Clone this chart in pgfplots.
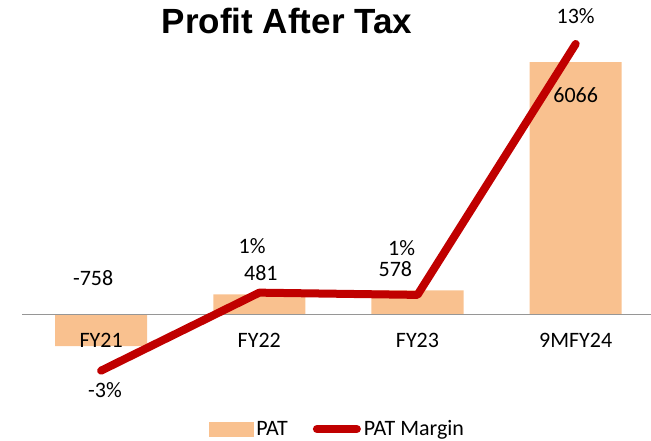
\documentclass[border=0pt]{standalone}
\usepackage{pgfplots}
\pgfplotsset{compat=1.18}
\usepackage{fontspec}
\setmainfont{Carlito}
\newfontfamily\titlefont{Liberation Sans}
\definecolor{barc}{RGB}{249,193,143}
\definecolor{linec}{RGB}{192,0,0}
\definecolor{axisgray}{RGB}{150,150,150}
\tikzset{lbl/.style={font=\fontsize{22}{24}\selectfont, inner sep=0pt}}
\begin{document}
\begin{tikzpicture}
\useasboundingbox (0,0) rectangle (651pt,440pt);
\node[font=\titlefont\bfseries\fontsize{35}{40}\selectfont] at (287pt,419pt) {Profit After Tax};
\begin{axis}[
  at={(22pt,40pt)}, anchor=south west,
  scale only axis, width=629pt, height=370pt,
  xmin=-0.5, xmax=3.476,
  ymin=-2054, ymax=6835,
  axis on top,
  axis y line=none,
  axis x line=middle,
  x axis line style={-, draw=axisgray, line width=1.2pt},
  xtick={0,1,2,3}, xticklabels={FY21,FY22,FY23,9MFY24},
  ytick=\empty,
  major tick length=0pt,
  xticklabel style={font=\fontsize{22}{24}\selectfont, yshift=-15pt},
  clip=false,
  legend columns=2,
  legend style={at={(axis description cs:0.297,-0.0784)}, anchor=west,
    draw=none, fill=none, inner sep=0pt,
    font=\fontsize{22}{24}\selectfont,
    nodes={inner sep=3pt},
    /tikz/every even column/.append style={column sep=22pt}},
]
\addplot[ybar, fill=barc, draw=none, bar width=92pt, bar shift=0pt, forget plot]
  coordinates {(0,-758) (1,481) (2,578) (3,6066)};
\addlegendimage{legend image code/.code={\fill[barc] (0pt,-7pt) rectangle (44pt,7pt);}}
\addlegendentry{PAT}
\addlegendimage{legend image code/.code={\draw[linec, line width=8pt, line cap=round] (4pt,0pt) -- (44pt,0pt);}}
\addlegendentry{PAT Margin}
\node[lbl] at (axis cs:-0.05,877) {-758};
\node[lbl] at (axis cs:1.01,997) {481};
\node[lbl] at (axis cs:1.86,1100) {578};
\node[lbl] at (axis cs:3.0,5273) {6066};
\end{axis}
\begin{axis}[
  at={(22pt,40pt)}, anchor=south west,
  scale only axis, width=629pt, height=370pt,
  xmin=-0.5, xmax=3.476,
  ymin=-4.437, ymax=13.683,
  axis lines=none, xtick=\empty, ytick=\empty,
  clip=false,
]
\addplot[linec, line width=8pt, line cap=round, line join=round, mark=none]
  coordinates {(0,-3) (1,0.82) (2,0.71) (3,13)};
\node[lbl] at (axis cs:0.025,-3.947) {-3\%};
\node[lbl] at (axis cs:0.955,3.105) {1\%};
\node[lbl] at (axis cs:1.9,2.98) {1\%};
\node[lbl] at (axis cs:3.0,14.37) {13\%};
\end{axis}
\end{tikzpicture}
\end{document}
